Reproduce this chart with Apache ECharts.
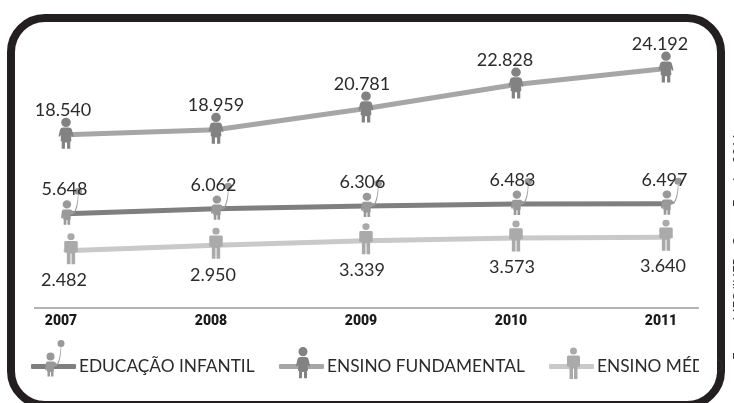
<!DOCTYPE html>
<html><head><meta charset="utf-8">
<style>html,body{margin:0;padding:0;background:#fff}#c{width:734px;height:403px}</style>
<script src="https://cdn.jsdelivr.net/npm/echarts@6/dist/echarts.min.js"></script>
</head><body><div id="c"></div>
<script>
const years = ['2007','2008','2009','2010','2011'];
const fundamental = [18540,18959,20781,22828,24192];
const infantil = [5648,6062,6306,6483,6497];
const medio = [2482,2950,3339,3573,3640];
const names = ['EDUCAÇÃO INFANTIL','ENSINO FUNDAMENTAL','ENSINO MÉDIO'];
const source = 'Fonte: MEC/INEP - Censo Escolar 2011';

const childPath = 'M3 33a8 8 0 1 0 16 0a8 8 0 1 0 -16 0z M32 0a7 7 0 1 0 .01 0z M31.4 14 Q30.5 36 24 48 L22 46 L18 43 H5 Q2 43 1.5 47 L0 60 L3 61 L4 57 L4 63 H5 V73 H10 V64 H12 V73 H17 V63 H18 V54 L25 51 Q32 40 32.6 14z';
const adultPath = 'M5 9a9 9 0 1 0 18 0a9 9 0 1 0 -18 0z M9 19H19Q24 19 25 23L28 36L25 37L23 32L24 44Q24 46 22 46V60H16V48H12V60H6V46Q4 46 4 44L5 32L3 37L0 36L3 23Q4 19 9 19Z';
const slimPath = 'M6 6a7 7 0 1 0 14 0a7 7 0 1 0 -14 0z M3 15H23Q26 15 26 18V37H22V38H21V62H14V40H12V62H5V38H4V37H0V18Q0 15 3 15Z';

echarts.graphic.registerShape('figChild', echarts.graphic.extendPath(childPath));
echarts.graphic.registerShape('figAdult', echarts.graphic.extendPath(adultPath));
echarts.graphic.registerShape('figSlim', echarts.graphic.extendPath(slimPath));

const colFund = '#a6a6a6', figFund = '#828282';
const colInf = '#7f7f7f', figInf = '#999999';
const colMed = '#c9c9c9', figMed = '#aaaaaa';
const txt = '#2b2b2b';
const fmt = p => { const v = String(p.value); return v.slice(0, -3) + '.' + v.slice(-3); };
const font = 'Lato';

const offFund = [[-3,0],[0,0],[-4,0],[-11,0],[-6,0]];
const offInf = [[-7,0],[-8,0],[-9,0],[-9,0],[-7,0]];
const offMed = [[-7,0],[-3,0],[-4,0],[-4,0],[-3,0]];
function items(vals, offs, extra) {
  return vals.map((v,i)=>Object.assign({value:v,label:{offset:offs[i]}}, extra?extra(i):{}));
}
function series(name, vals, offs, yi, line, fig, path, size, so, pos, dist, extra) {
  return {name, type:'line', yAxisIndex:yi, smooth:false, showAllSymbol:true, animation:false,
    data: items(vals,offs,extra), symbol:'path://'+path, symbolSize:size, symbolOffset:so, symbolKeepAspect:false,
    lineStyle:{color:line,width:5,cap:'round'}, itemStyle:{color:fig,opacity:1},
    label:{show:true,position:pos,distance:dist,formatter:fmt,color:txt,fontFamily:font,fontSize:18,fontWeight:400},
    emphasis:{disabled:true}};
}
function legend(name,left,line){
  return {show:true,left,top:358,orient:'horizontal',data:[{name,icon:'roundRect',itemStyle:{color:line}}],itemWidth:45,itemHeight:5,itemGap:0,
    textStyle:{color:txt,fontFamily:font,fontSize:17.3,padding:[0,0,0,-2]},selectedMode:false,padding:0};
}
const chart = echarts.init(document.getElementById('c'),null,{renderer:'canvas'});
chart.setOption({
  animation:false,
  backgroundColor:'#ffffff',
  grid:{left:66,right:68,top:20,bottom:95},
  xAxis:{type:'category',data:years,boundaryGap:false,axisLine:{show:false},axisTick:{show:false},
    axisLabel:{interval:0,color:'#1a1a1a',fontFamily:'Roboto',fontWeight:900,fontSize:14,margin:6,padding:[0,10,0,0]}},
  yAxis:[
    {type:'value',min:-2415,max:22200,show:false,splitLine:{show:false}},
    {type:'value',min:3728,max:28343,show:false,splitLine:{show:false}}
  ],
  legend:[legend(names[0],31,colInf),legend(names[1],279,colFund),legend(names[2],549,colMed)],
  series:[
    series(names[1],fundamental,offFund,1,colFund,figFund,adultPath,[15,31],[0,-1.5],'top',-1.5),
    series(names[0],infantil,offInf,0,colInf,figInf,childPath,[21,37],[5.5,-7.5],'top',-11),
    series(names[2],medio,offMed,0,colMed,figMed,slimPath,[13.5,31],[0,-2],'bottom',7,
      i=>i===0?{symbolOffset:[5,-2]}:{})
  ],
  graphic:[
    {type:'rect',z:-10,silent:true,shape:{x:11,y:18,width:710,height:387,r:34},style:{fill:'#fff',stroke:'#231f20',lineWidth:8}},
    {type:'line',z:1,shape:{x1:34,y1:308,x2:699,y2:308},style:{stroke:'#9a9a9a',lineWidth:1.5}},
    {type:'rect',z:9,shape:{x:699,y:352,width:18,height:22},style:{fill:'#fff'}},
    {type:'figChild',z:10,x:45,y:340,scaleX:0.5,scaleY:0.5,style:{fill:figInf}},
    {type:'figAdult',z:10,x:296,y:347,scaleX:0.5,scaleY:0.52,style:{fill:figFund}},
    {type:'figSlim',z:10,x:567,y:348,scaleX:0.5,scaleY:0.5,style:{fill:figMed}},
    {type:'text',z:1,x:739,y:133,rotation:Math.PI/2,style:{text:source,fill:'#333',font:'13px Lato',align:'right',verticalAlign:'middle'}}
  ]
});
</script></body></html>
